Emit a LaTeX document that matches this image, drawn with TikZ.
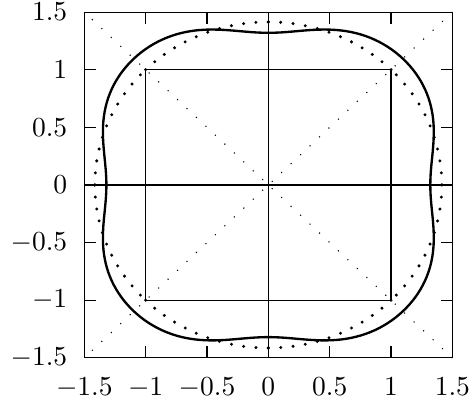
\documentclass[tikz,border=0pt]{standalone}
\begin{document}
\begin{tikzpicture}[x=44.6pt,y=41.9pt,
  thinline/.style={line width=0.4pt},
  sqline/.style={line width=0.5pt},
  curveline/.style={line width=0.85pt, line join=round},
  diagdots/.style={line width=0.4pt, dash pattern=on 0.4pt off 4.32pt},
  cdot/.style={fill=black},
  xlab/.style={anchor=north, inner sep=0pt, yshift=-7.2pt},
  ylab/.style={anchor=east, inner sep=0pt, xshift=-6pt},
  declare function={rr(\t)=1.445-0.115*cos(4*\t)-0.01*cos(8*\t);}
]
\useasboundingbox (-2.187,-1.960) rectangle (1.676,1.6045);
% dotted diagonals
\draw[diagdots] (1.5,1.5) -- (-1.5,-1.5);
\draw[diagdots] (1.5,-1.5) -- (-1.5,1.5);
% axis lines through the origin
\draw[thinline] (-1.5,0) -- (1.5,0);
\draw[thinline] (0,-1.5) -- (0,1.5);
% square
\draw[sqline] (-1,-1) rectangle (1,1);
% dotted circle of radius sqrt 2
\foreach \k in {0,...,10} {
  \pgfmathsetmacro\a{4.25*\k}
  \foreach \s in {1,-1} {
    \fill[cdot] ({1.41421*cos(\a)},{\s*1.41421*sin(\a)}) circle (0.6pt);
    \fill[cdot] ({-1.41421*cos(\a)},{\s*1.41421*sin(\a)}) circle (0.6pt);
  }
}
\foreach \k in {0,...,11} {
  \pgfmathsetmacro\a{45+45*\k/11}
  \foreach \s in {1,-1} {
    \fill[cdot] ({1.41421*cos(\a)},{\s*1.41421*sin(\a)}) circle (0.6pt);
    \fill[cdot] ({-1.41421*cos(\a)},{\s*1.41421*sin(\a)}) circle (0.6pt);
  }
}
% solid curve
\draw[curveline, variable=\t, domain=0:360, samples=241]
  plot ({rr(\t)*cos(\t)},{rr(\t)*sin(\t)}) -- cycle;
% frame
\draw[thinline] (-1.5,-1.5) rectangle (1.5,1.5);
% ticks
\foreach \v in {-1,-0.5,0,0.5,1} {
  \draw[thinline] (\v,-1.5) -- ++(0,4.25pt);
  \draw[thinline] (\v,1.5) -- ++(0,-4.25pt);
  \draw[thinline] (-1.5,\v) -- ++(4.25pt,0);
  \draw[thinline] (1.5,\v) -- ++(-4.25pt,0);
}
% tick labels
\foreach \v/\t [count=\i] in {-1.5/{$-1.5$},-1/{$-1$},-0.5/{$-0.5$},0/{$0$},0.5/{$0.5$},1/{$1$},1.5/{$1.5$}} {
  \node[xlab] (xl\i) at (\v,-1.5) {\t};
  \node[ylab] (yl\i) at (-1.5,\v) {\t};
}
\end{tikzpicture}
\end{document}
